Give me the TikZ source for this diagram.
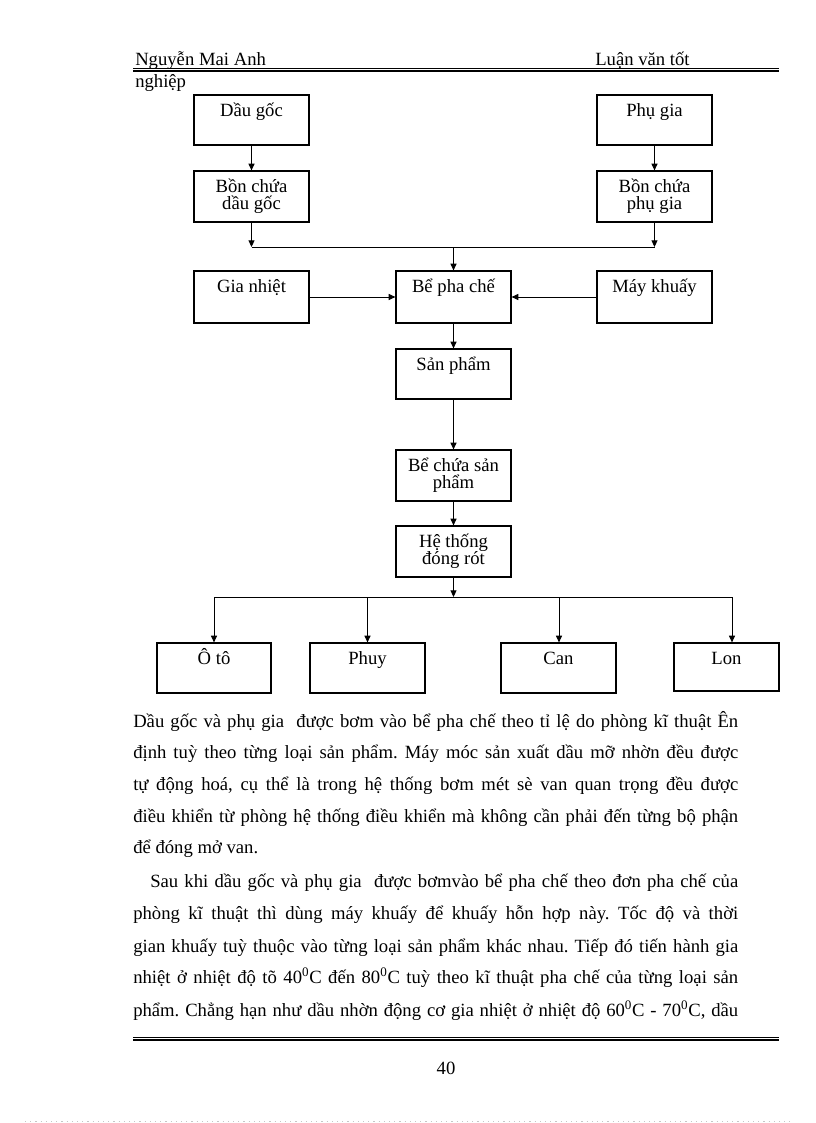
\documentclass[tikz,border=0pt]{standalone}
\usepackage{fontspec}
\setmainfont{Liberation Serif}
\usetikzlibrary{arrows.meta}
\frenchspacing
\newcommand\bxt[3]{\parbox[c][#2][t]{#1}{\centering\lineskiplimit=-20pt\baselineskip=12.8pt\rule{0pt}{16pt}#3}}
\newcommand\jline[1]{\makebox[453.75pt][s]{#1}}
\tikzset{
  box/.style={draw, line width=0.9pt, inner sep=0pt, font=\fontsize{14}{12.5}\selectfont},
  arr/.style={line width=0.7pt, -{Triangle[length=5pt,width=4.5pt]}},
  conn/.style={line width=0.7pt},
  body/.style={anchor=base west, inner sep=0pt, font=\fontsize{14}{16}\selectfont},
}
\begin{document}
\begin{tikzpicture}[x=0.75pt,y=-0.75pt]
\useasboundingbox (0,0) rectangle (816,1123);
\fill[white] (0,0) rectangle (816,1123);
% header
\node[body] (h1) at (135,66) {Nguyễn Mai Anh};
\node[body] (h2) at (595,66) {Luận văn tốt};
\node[body] (h3) at (135,88) {nghiệp};
\draw[line width=0.5pt] (133,68) -- (779,68);
\draw[line width=1.5pt] (133,70.8) -- (779,70.8);
% boxes
\node[box] (dg) at (251.5,120) {\bxt{86.25pt}{37.5pt}{Dầu gốc}};
\node[box] (pg) at (654.5,120) {\bxt{86.25pt}{37.5pt}{Phụ gia}};
\node[box] (bdg) at (251.5,196.5) {\bxt{86.25pt}{38.25pt}{Bồn chứa\\dầu gốc}};
\node[box] (bpg) at (654.5,196.5) {\bxt{86.25pt}{38.25pt}{Bồn chứa\\phụ gia}};
\node[box] (gn) at (251.5,297) {\bxt{86.25pt}{39pt}{Gia nhiệt}};
\node[box] (bpc) at (453.5,297) {\bxt{86.25pt}{39pt}{Bể pha chế}};
\node[box] (mk) at (654.5,297) {\bxt{86.25pt}{39pt}{Máy khuấy}};
\node[box] (sp) at (453.5,374) {\bxt{86.25pt}{37.5pt}{Sản phẩm}};
\node[box] (bcsp) at (453.5,475.5) {\bxt{86.25pt}{38.25pt}{Bể chứa sản\\phẩm}};
\node[box] (ht) at (453.5,551.5) {\bxt{86.25pt}{38.25pt}{Hệ thống\\đóng rót}};
\node[box] (oto) at (214,668) {\bxt{85.5pt}{37.5pt}{Ô tô}};
\node[box] (phuy) at (367.5,668) {\bxt{86.25pt}{37.5pt}{Phuy}};
\node[box] (can) at (558.5,668) {\bxt{86.25pt}{37.5pt}{Can}};
\node[box] (lon) at (726.5,667) {\bxt{78.75pt}{36pt}{Lon}};
% connectors
\coordinate (jl) at (251.5,247);
\coordinate (jr) at (654.5,247);
\coordinate (jm) at (453.5,247);
\draw[arr] (dg) -- (bdg);
\draw[arr] (pg) -- (bpg);
\draw[arr] (bdg) -- (jl);
\draw[arr] (bpg) -- (jr);
\draw[conn] (jl) -- (jr);
\draw[arr] (jm) -- (bpc);
\draw[arr] (gn) -- (bpc);
\draw[arr] (mk) -- (bpc);
\draw[arr] (bpc) -- (sp);
\draw[arr] (sp) -- (bcsp);
\draw[arr] (bcsp) -- (ht);
\coordinate (bm) at (453.5,597);
\coordinate (b1) at (214,597);
\coordinate (b2) at (367.5,597);
\coordinate (b3) at (559,597);
\coordinate (b4) at (732,597);
\draw[arr] (ht) -- (bm);
\draw[conn] (b1) -- (b4);
\draw[arr] (b1) -- (b1 |- oto.north);
\draw[arr] (b2) -- (b2 |- phuy.north);
\draw[arr] (b3) -- (b3 |- can.north);
\draw[arr] (b4) -- (b4 |- lon.north);
% body text
\node[body] (p1) at (133,727) {\jline{Dầu gốc và phụ gia\ \ được bơm vào bể pha chế theo tỉ lệ do phòng kĩ thuật Ên}};
\node[body] (p2) at (133,758) {\jline{định tuỳ theo từng loại sản phẩm. Máy móc sản xuất dầu mỡ nhờn đều được}};
\node[body] (p3) at (133,790) {\jline{tự động hoá, cụ thể là trong hệ thống bơm mét sè van quan trọng đều được}};
\node[body] (p4) at (133,822) {\jline{điều khiển từ phòng hệ thống điều khiển mà không cần phải đến từng bộ phận}};
\node[body] (p5) at (133,853) {để đóng mở van.};
\node[body] (q1) at (150,887) {\makebox[441pt][s]{Sau khi dầu gốc và phụ gia\ \ được bơmvào bể pha chế theo đơn pha chế của}};
\node[body] (q2) at (133,919) {\jline{phòng kĩ thuật thì dùng máy khuấy để khuấy hỗn hợp này. Tốc độ và thời}};
\node[body] (q3) at (133,952) {\jline{gian khuấy tuỳ thuộc vào từng loại sản phẩm khác nhau. Tiếp đó tiến hành gia}};
\node[body] (q4) at (133,983) {\jline{nhiệt ở nhiệt độ tõ 40\textsuperscript{0}C đến 80\textsuperscript{0}C tuỳ theo kĩ thuật pha chế của từng loại sản}};
\node[body] (q5) at (133,1016) {\jline{phẩm. Chẳng hạn như dầu nhờn động cơ gia nhiệt ở nhiệt độ 60\textsuperscript{0}C - 70\textsuperscript{0}C, dầu}};
% footer
\draw[line width=0.5pt] (133,1037) -- (779,1037);
\draw[line width=1.6pt] (133,1039.6) -- (779,1039.6);
\node[body, anchor=base] (pn) at (446,1074) {40};
\draw[gray!45, line width=0.9pt, dash pattern=on 0.9pt off 3pt] (25,1121.5) -- (790,1121.5);
\end{tikzpicture}
\end{document}
